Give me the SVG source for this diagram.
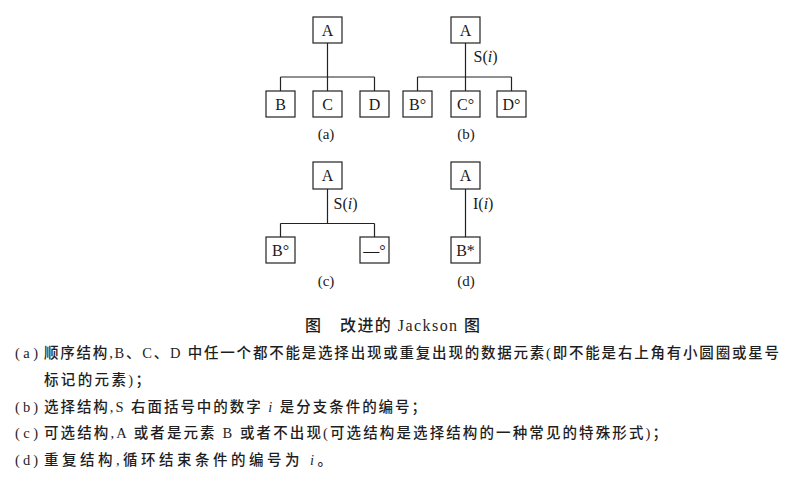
<svg xmlns="http://www.w3.org/2000/svg" width="793" height="480" viewBox="0 0 793 480">
<style>
.box{fill:#fff;stroke:#222;stroke-width:1.2}
.ln{fill:none;stroke:#222;stroke-width:1.2}
.nt{font-family:"Liberation Serif",serif;font-size:16px;fill:#1a1a1a;text-anchor:middle}
.lb{font-family:"Liberation Serif",serif;font-size:16px;fill:#1a1a1a}
.cap{font-family:"Liberation Serif",serif;font-size:15px;fill:#1a1a1a;text-anchor:middle}
.tx{font-family:"Liberation Serif","Noto Sans CJK SC",serif;font-size:14.5px;font-weight:500;fill:#1e1e1e}
.ti{font-family:"Liberation Serif","Noto Sans CJK SC",serif;font-size:16px;font-weight:500;fill:#1e1e1e}
</style>
<rect width="793" height="480" fill="#fff"/>
<g id="connectors">
<path class="ln" d="M327.5 43V77M280.5 77H374.5M280.5 77V91M327.5 77V91M374.5 77V91"/>
<path class="ln" d="M465.5 43V77M417.5 77H511.5M417.5 77V91M465.5 77V91M511.5 77V91"/>
<path class="ln" d="M327.5 189V223.5M280.5 223.5H374.5M280.5 223.5V237M374.5 223.5V237"/>
<path class="ln" d="M465.5 189V237"/>
</g>
<g id="a-A"><rect class="box" x="313" y="17" width="29" height="26"/><text class="nt" x="327.5" y="35.5">A</text></g>
<g id="a-B"><rect class="box" x="266" y="91" width="29" height="26"/><text class="nt" x="280.5" y="109.5">B</text></g>
<g id="a-C"><rect class="box" x="313" y="91" width="29" height="26"/><text class="nt" x="327.5" y="109.5">C</text></g>
<g id="a-D"><rect class="box" x="360" y="91" width="29" height="26"/><text class="nt" x="374.5" y="109.5">D</text></g>
<text class="cap" x="326" y="138.5">(a)</text>
<g id="b-A"><rect class="box" x="451" y="17" width="29" height="26"/><text class="nt" x="465.5" y="35.5">A</text></g>
<text class="lb" x="473.5" y="62">S(<tspan font-style="italic">i</tspan>)</text>
<g id="b-B"><rect class="box" x="403" y="91" width="29" height="26"/><text class="nt" x="417.5" y="109.5">B°</text></g>
<g id="b-C"><rect class="box" x="451" y="91" width="29" height="26"/><text class="nt" x="465.5" y="109.5">C°</text></g>
<g id="b-D"><rect class="box" x="497" y="91" width="29" height="26"/><text class="nt" x="511.5" y="109.5">D°</text></g>
<text class="cap" x="466" y="138.5">(b)</text>
<g id="c-A"><rect class="box" x="313" y="162" width="29" height="27"/><text class="nt" x="327.5" y="181">A</text></g>
<text class="lb" x="333.5" y="208.5">S(<tspan font-style="italic">i</tspan>)</text>
<g id="c-B"><rect class="box" x="266" y="237" width="29" height="26"/><text class="nt" x="280.5" y="255.5">B°</text></g>
<g id="c-E"><rect class="box" x="360" y="237" width="29" height="26"/><text class="nt" x="374.5" y="255.5">—°</text></g>
<text class="cap" x="326" y="286">(c)</text>
<g id="d-A"><rect class="box" x="451" y="162" width="29" height="27"/><text class="nt" x="465.5" y="181">A</text></g>
<text class="lb" x="473" y="208.5">I(<tspan font-style="italic">i</tspan>)</text>
<g id="d-B"><rect class="box" x="451" y="237" width="29" height="26"/><text class="nt" x="465.5" y="255.5">B*</text></g>
<text class="cap" x="466" y="286">(d)</text>
<text class="ti" x="305" y="331" textLength="175" lengthAdjust="spacing">图　改进的 Jackson 图</text>
<text class="tx" x="15" y="357.5" textLength="23" lengthAdjust="spacing">(a)</text>
<text class="tx" x="44" y="357.5" textLength="735" lengthAdjust="spacing">顺序结构,B、C、D 中任一个都不能是选择出现或重复出现的数据元素(即不能是右上角有小圆圈或星号</text>
<text class="tx" x="44" y="384.5" textLength="106" lengthAdjust="spacing">标记的元素)；</text>
<text class="tx" x="15" y="411.5" textLength="23" lengthAdjust="spacing">(b)</text>
<text class="tx" x="44" y="411.5" textLength="382" lengthAdjust="spacing">选择结构,S 右面括号中的数字 <tspan font-style="italic">i</tspan> 是分支条件的编号；</text>
<text class="tx" x="15" y="438" textLength="23" lengthAdjust="spacing">(c)</text>
<text class="tx" x="44" y="438" textLength="623" lengthAdjust="spacing">可选结构,A 或者是元素 B 或者不出现(可选结构是选择结构的一种常见的特殊形式)；</text>
<text class="tx" x="15" y="464.5" textLength="23" lengthAdjust="spacing">(d)</text>
<text class="tx" x="44" y="464.5" textLength="288" lengthAdjust="spacing">重复结构,循环结束条件的编号为 <tspan font-style="italic">i</tspan>。</text>
</svg>
